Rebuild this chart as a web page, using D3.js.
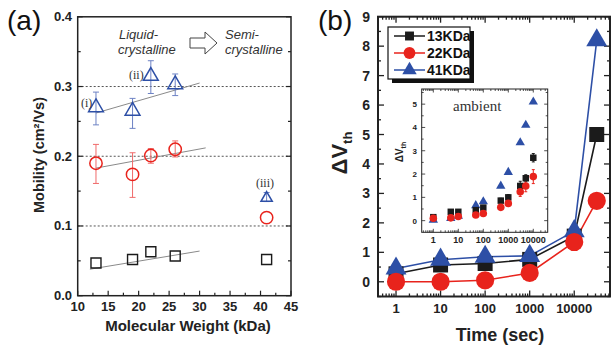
<!DOCTYPE html>
<html lang="en">
<head>
<meta charset="UTF-8">
<title>Mobility and threshold voltage shift</title>
<script src="https://cdn.jsdelivr.net/npm/d3@7"></script>
<style>
  body { margin: 0; background: #fff; }
  svg { display: block; font-family: "Liberation Sans", Arial, sans-serif; }
</style>
</head>
<body>
<svg id="chart" width="613" height="348"></svg>
<script>
// ---- panel (a): mobility vs molecular weight ----
const weights = [13, 19, 22, 26, 41];
const mobSquare = [0.047, 0.052, 0.063, 0.057, 0.052];
const mobCircle = [0.190, 0.174, 0.201, 0.210, 0.112];
const mobCircleErr = [[0.161, 0.217], [0.141, 0.205], [0.190, 0.211], [0.199, 0.222], null];
const mobTriangle = [0.270, 0.265, 0.315, 0.303, 0.140];
const mobTriangleErr = [[0.245, 0.292], [0.240, 0.283], [0.290, 0.337], [0.287, 0.318], [0.135, 0.148]];
// linear fits (two end points each)
const fitSquare = [[12, 0.038], [30, 0.064]];
const fitCircle = [[13, 0.183], [31, 0.212]];
const fitTriangle = [[13, 0.262], [30, 0.305]];
const xTicksA = [10, 15, 20, 25, 30, 35, 40, 45];
const yTicksA = [0.0, 0.1, 0.2, 0.3, 0.4];
const dottedA = [0.1, 0.2, 0.3];

// ---- panel (b): threshold shift vs time ----
const times = [1, 10, 100, 1000, 10000, 32000];
const dv13 = [0.27, 0.57, 0.62, 0.76, 1.55, 5.0];
const dv22 = [0.0, 0.0, 0.05, 0.30, 1.35, 2.75];
const dv41 = [0.45, 0.75, 0.85, 0.88, 1.72, 8.2];
const seriesNames = ["13KDa", "22KDa", "41KDa"];
const xTicksB = [1, 10, 100, 1000, 10000];
const yTicksB = [0, 1, 2, 3, 4, 5, 6, 7, 8, 9];

// inset (ambient)
const insetTimes = [1, 5, 10, 50, 100, 500, 1000, 3000, 5000, 10000];
const in13 = [0.15, 0.38, 0.38, 0.45, 0.56, 0.86, 1.0, 1.49, 1.82, 2.7];
const in13Err = [0.05, 0.05, 0.05, 0.05, 0.08, 0.1, 0.12, 0.2, 0.15, 0.18];
const in22 = [0.1, 0.12, 0.18, 0.24, 0.31, 0.57, 0.74, 1.24, 1.49, 1.89];
const in22Err = [0.05, 0.05, 0.05, 0.05, 0.05, 0.08, 0.1, 0.2, 0.25, 0.3];
const in41 = [0.03, 0.1, 0.2, 0.65, 0.82, 1.49, 2.08, 3.35, 4.1, 5.1];
const yTicksIn = [0, 1, 2, 3, 4, 5];

const BLACK = "#1b1b1b", RED = "#e8231c", BLUE = "#2d4fa6";

const svg = d3.select("#chart");

// small helper for framed axes with inward ticks
function frame(g, x, y, o) {
    const [x0, x1] = x.range(), [y0, y1] = y.range();
    g.append("rect")
        .attr("x", x0).attr("y", y1)
        .attr("width", x1 - x0).attr("height", y0 - y1)
        .attr("fill", o.fill || "none")
        .attr("stroke", "#222").attr("stroke-width", o.sw);
    const tick = (vals, len, side) => {
        vals.forEach(v => {
            if (side === "b" || side === "t") {
                const px = x(v), py = side === "b" ? y0 : y1, d = side === "b" ? -len : len;
                g.append("line").attr("x1", px).attr("x2", px).attr("y1", py).attr("y2", py + d)
                    .attr("stroke", "#222").attr("stroke-width", o.tw);
            } else {
                const py = y(v), px = side === "l" ? x0 : x1, d = side === "l" ? len : -len;
                g.append("line").attr("x1", px).attr("x2", px + d).attr("y1", py).attr("y2", py)
                    .attr("stroke", "#222").attr("stroke-width", o.tw);
            }
        });
    };
    o.sidesX.forEach(s => { tick(o.xMajor, o.major, s); tick(o.xMinor, o.minor, s); });
    o.sidesY.forEach(s => { tick(o.yMajor, o.major, s); tick(o.yMinor, o.minor, s); });
}

// ================= (a) =================
const xA = d3.scaleLinear().domain([10, 45]).range([77.7, 291]);
const yA = d3.scaleLinear().domain([0, 0.4]).range([295.7, 16.8]);
const gA = svg.append("g");

// dotted reference lines
gA.selectAll(".dot-line").data(dottedA).join("line")
    .attr("x1", xA(10)).attr("x2", xA(45))
    .attr("y1", d => yA(d)).attr("y2", d => yA(d))
    .attr("stroke", "#555").attr("stroke-width", 1).attr("stroke-dasharray", "2,2");

frame(gA, xA, yA, {
    sw: 1.5, tw: 1.2, major: 5, minor: 3,
    sidesX: ["b"], sidesY: ["l", "r"],
    xMajor: xTicksA, xMinor: d3.range(12.5, 45, 5),
    yMajor: yTicksA, yMinor: [0.05, 0.15, 0.25, 0.35]
});

gA.selectAll(".xl").data(xTicksA).join("text")
    .attr("x", d => xA(d)).attr("y", 311)
    .attr("text-anchor", "middle").attr("font-size", 13).attr("font-weight", "bold")
    .attr("fill", "#222").text(d => d);
gA.selectAll(".yl").data(yTicksA).join("text")
    .attr("x", 72).attr("y", d => yA(d) + 4.5)
    .attr("text-anchor", "end").attr("font-size", 13).attr("font-weight", "bold")
    .attr("fill", "#222").text(d3.format(".1f"));

gA.append("text").attr("x", 188).attr("y", 331)
    .attr("text-anchor", "middle").attr("font-size", 15).attr("font-weight", "bold")
    .attr("fill", "#222").text("Molecular Weight (kDa)");
gA.append("text").attr("transform", "translate(44,155) rotate(-90)")
    .attr("text-anchor", "middle").attr("font-size", 14.5).attr("font-weight", "bold")
    .attr("fill", "#222").text("Mobility (cm²/Vs)");

// fit lines
const line = d3.line();
[fitSquare, fitCircle, fitTriangle].forEach(f => {
    gA.append("path")
        .attr("d", line(f.map(p => [xA(p[0]), yA(p[1])])))
        .attr("stroke", "#8a8a8a").attr("stroke-width", 1).attr("fill", "none");
});

// error bars
function errBars(g, x, y, xs, errs, color, cap, w) {
    xs.forEach((v, i) => {
        const e = errs[i];
        if (!e) return;
        g.append("line").attr("x1", x(v)).attr("x2", x(v)).attr("y1", y(e[0])).attr("y2", y(e[1]))
            .attr("stroke", color).attr("stroke-width", w);
        [e[0], e[1]].forEach(b => g.append("line")
            .attr("x1", x(v) - cap).attr("x2", x(v) + cap).attr("y1", y(b)).attr("y2", y(b))
            .attr("stroke", color).attr("stroke-width", w));
    });
}
errBars(gA, xA, yA, weights, mobCircleErr, "#f06a6a", 3, 1);
errBars(gA, xA, yA, weights, mobTriangleErr, "#6d82c4", 3, 1);

const sq = d3.symbol(d3.symbolSquare), ci = d3.symbol(d3.symbolCircle), tr = d3.symbol(d3.symbolTriangle);

gA.selectAll(".sqa").data(weights).join("path")
    .attr("d", sq.size(100)())
    .attr("transform", (d, i) => `translate(${xA(d)},${yA(mobSquare[i])})`)
    .attr("fill", "none").attr("stroke", BLACK).attr("stroke-width", 1.4);
gA.selectAll(".cia").data(weights).join("path")
    .attr("d", ci.size(120)())
    .attr("transform", (d, i) => `translate(${xA(d)},${yA(mobCircle[i])})`)
    .attr("fill", "none").attr("stroke", RED).attr("stroke-width", 1.5);
gA.selectAll(".tra").data(weights).join("path")
    .attr("d", (d, i) => tr.size(i === 4 ? 55 : 95)())
    .attr("transform", (d, i) => `translate(${xA(d)},${yA(mobTriangle[i])})`)
    .attr("fill", "none").attr("stroke", BLUE).attr("stroke-width", 1.5);

// annotations
gA.append("text").attr("x", 7).attr("y", 30).attr("font-size", 28).attr("fill", "#111").text("(a)");
const italic = (x, y, t) => gA.append("text").attr("x", x).attr("y", y)
    .attr("font-size", 13).attr("font-style", "italic").attr("fill", "#333").text(t);
italic(119, 39, "Liquid-");
italic(118, 54, "crystalline");
italic(225, 39, "Semi-");
italic(225, 54, "crystalline");
gA.append("path")
    .attr("d", "M190,38 L205,38 L205,32 L217,43 L205,54 L205,48 L190,48 Z")
    .attr("fill", "#fff").attr("stroke", "#444").attr("stroke-width", 1);
const roman = (x, y, t) => gA.append("text").attr("x", x).attr("y", y)
    .attr("font-family", "Liberation Serif, serif").attr("font-size", 12).attr("fill", "#333").text(t);
roman(81, 107, "(i)");
roman(129, 79, "(ii)");
roman(256, 187, "(iii)");

// ================= (b) =================
const xB = d3.scaleLog().domain([0.394, 63500]).range([378, 610]);
const yB = d3.scaleLinear().domain([-0.5, 9]).range([296.5, 16.7]);
const gB = svg.append("g");

const minorLog = (sc) => sc.ticks().filter(v => {
    const m = v / Math.pow(10, Math.floor(Math.log10(v) + 1e-9));
    return Math.abs(m - 1) > 1e-6;
});

frame(gB, xB, yB, {
    sw: 2, tw: 1.3, major: 6, minor: 3,
    sidesX: ["b", "t"], sidesY: ["l", "r"],
    xMajor: xTicksB, xMinor: minorLog(xB),
    yMajor: yTicksB, yMinor: d3.range(-0.5, 9, 1)
});

gB.selectAll(".xl").data(xTicksB).join("text")
    .attr("x", d => xB(d)).attr("y", 313)
    .attr("text-anchor", "middle").attr("font-size", 13).attr("font-weight", "bold")
    .attr("fill", "#222").text(d => d);
gB.selectAll(".yl").data(yTicksB).join("text")
    .attr("x", 370).attr("y", d => yB(d) + 5)
    .attr("text-anchor", "end").attr("font-size", 14).attr("font-weight", "bold")
    .attr("fill", "#222").text(d => d);
gB.append("text").attr("x", 500).attr("y", 341)
    .attr("text-anchor", "middle").attr("font-size", 18).attr("font-weight", "bold")
    .attr("fill", "#222").text("Time (sec)");
const yLabB = gB.append("text").attr("transform", "translate(347,153) rotate(-90)")
    .attr("text-anchor", "middle").attr("font-size", 22).attr("font-weight", "bold").attr("fill", "#222");
yLabB.append("tspan").text("ΔV");
yLabB.append("tspan").attr("font-size", 13).attr("dy", 5).text("th");
gB.append("text").attr("x", 318).attr("y", 30).attr("font-size", 28).attr("fill", "#111").text("(b)");

// inset
const xIn = d3.scaleLog().domain([0.343, 37700]).range([421.7, 547.7]);
const yIn = d3.scaleLinear().domain([-0.5, 5.65]).range([232.3, 89]);
const gIn = gB.append("g");
frame(gIn, xIn, yIn, {
    sw: 1, fill: "#fff", tw: 0.8, major: 3.5, minor: 2,
    sidesX: ["b", "t"], sidesY: ["l", "r"],
    xMajor: xTicksB, xMinor: minorLog(xIn),
    yMajor: yTicksIn, yMinor: d3.range(0.5, 5.6, 1)
});
gIn.selectAll(".xl").data(xTicksB).join("text")
    .attr("x", d => xIn(d)).attr("y", 243)
    .attr("text-anchor", "middle").attr("font-size", 9).attr("font-weight", "bold")
    .attr("fill", "#222").text(d => d);
gIn.selectAll(".yl").data(yTicksIn).join("text")
    .attr("x", 417).attr("y", d => yIn(d) + 3)
    .attr("text-anchor", "end").attr("font-size", 8).attr("font-weight", "bold")
    .attr("fill", "#222").text(d => d);
const yLabIn = gIn.append("text").attr("transform", "translate(403,152) rotate(-90)")
    .attr("text-anchor", "middle").attr("font-size", 10).attr("font-weight", "bold").attr("fill", "#222");
yLabIn.append("tspan").text("ΔV");
yLabIn.append("tspan").attr("font-size", 7).attr("dy", 3).text("th");
gIn.append("text").attr("x", 453).attr("y", 111)
    .attr("font-family", "Liberation Serif, serif").attr("font-size", 15).attr("fill", "#333").text("ambient");

const errIn = (vals, errs) => vals.map((v, i) => [v - errs[i], v + errs[i]]);
errBars(gIn, xIn, yIn, insetTimes, errIn(in13, in13Err), BLACK, 1.5, 1);
errBars(gIn, xIn, yIn, insetTimes, errIn(in22, in22Err), RED, 1.5, 1);

const insetSeries = [
    {vals: in41, sym: d3.symbolTriangle, size: 38, color: BLUE},
    {vals: in13, sym: d3.symbolSquare, size: 42, color: BLACK},
    {vals: in22, sym: d3.symbolCircle, size: 45, color: RED}
];
insetSeries.forEach(s => {
    gIn.selectAll(null).data(insetTimes).join("path")
        .attr("d", d3.symbol(s.sym).size(s.size)())
        .attr("transform", (d, i) => `translate(${xIn(d)},${yIn(s.vals[i])})`)
        .attr("fill", s.color);
});

// main series
const mainSeries = [
    {vals: dv13, sym: d3.symbolSquare, size: 225, color: BLACK},
    {vals: dv41, sym: d3.symbolTriangle, size: 190, color: BLUE},
    {vals: dv22, sym: d3.symbolCircle, size: 260, color: RED}
];
mainSeries.forEach(s => {
    gB.append("path")
        .attr("d", d3.line()(times.map((t, i) => [xB(t), yB(s.vals[i])])))
        .attr("fill", "none").attr("stroke", s.color).attr("stroke-width", 1.6);
});
mainSeries.forEach(s => {
    gB.selectAll(null).data(times).join("path")
        .attr("d", d3.symbol(s.sym).size(s.size)())
        .attr("transform", (d, i) => `translate(${xB(d)},${yB(s.vals[i])})`)
        .attr("fill", s.color);
});

// legend with drop shadow
const leg = gB.append("g");
leg.append("rect").attr("x", 392).attr("y", 31).attr("width", 82).attr("height", 52).attr("fill", "#111");
leg.append("rect").attr("x", 388).attr("y", 27).attr("width", 82).attr("height", 52)
    .attr("fill", "#fff").attr("stroke", "#111").attr("stroke-width", 1.2);
const legItems = [
    {name: seriesNames[0], sym: d3.symbolSquare, size: 80, color: BLACK},
    {name: seriesNames[1], sym: d3.symbolCircle, size: 110, color: RED},
    {name: seriesNames[2], sym: d3.symbolTriangle, size: 90, color: BLUE}
];
legItems.forEach((d, i) => {
    const y = 36 + i * 17;
    leg.append("line").attr("x1", 394).attr("x2", 425).attr("y1", y).attr("y2", y)
        .attr("stroke", d.color).attr("stroke-width", 1.5);
    leg.append("path").attr("d", d3.symbol(d.sym).size(d.size)())
        .attr("transform", `translate(409.5,${y})`).attr("fill", d.color);
    leg.append("text").attr("x", 427).attr("y", y + 5)
        .attr("font-size", 14).attr("font-weight", "bold").attr("fill", "#111").text(d.name);
});
</script>
</body>
</html>
